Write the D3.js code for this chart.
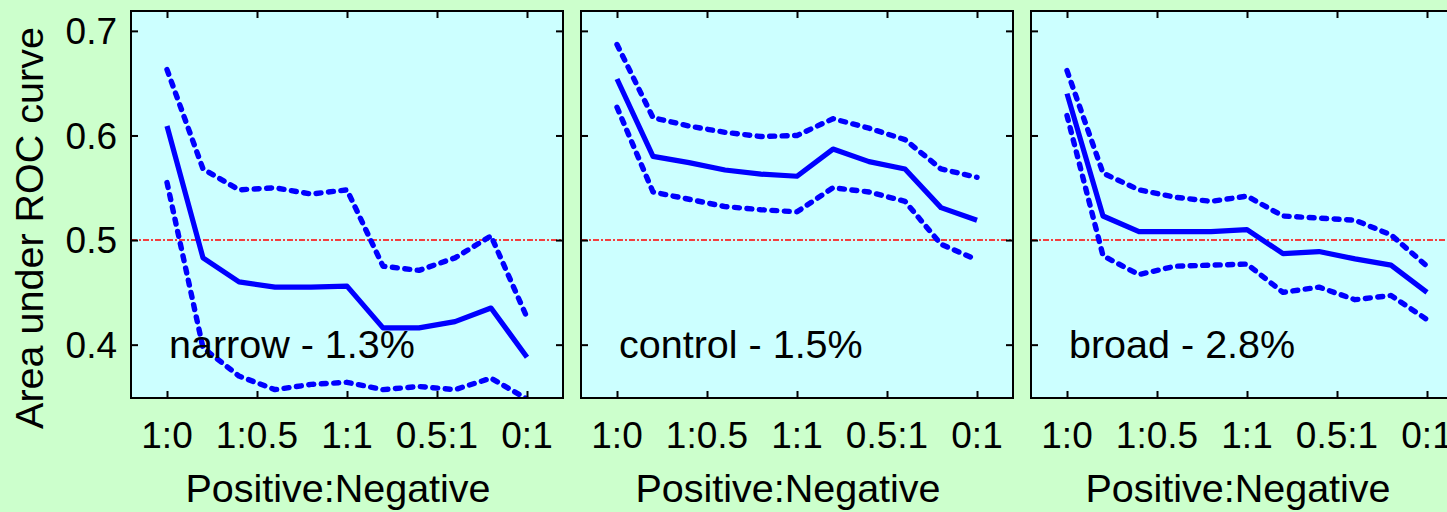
<!DOCTYPE html>
<html><head><meta charset="utf-8">
<script src="https://cdn.jsdelivr.net/npm/d3@7"></script>
<style>html,body{margin:0;padding:0;background:#ccffcc;overflow:hidden}svg{display:block}</style>
</head><body><svg id="c" width="1447" height="512"></svg>
<script>
// ---- data ----
const categories = ["1:0", "1:0.5", "1:1", "0.5:1", "0:1"];
const categoryPos = [0, 2.5, 5, 7.5, 10];
const steps = [0, 1, 2, 3, 4, 5, 6, 7, 8, 9, 10];
const yTicks = [0.4, 0.5, 0.6, 0.7];
const panelLabels = ["narrow - 1.3%", "control - 1.5%", "broad - 2.8%"];
const chanceLevel = 0.5;

const narrowMean  = [0.609, 0.483, 0.460, 0.455, 0.455, 0.456, 0.416, 0.416, 0.422, 0.435, 0.388];
const narrowUpper = [0.663, 0.568, 0.548, 0.550, 0.544, 0.548, 0.475, 0.471, 0.483, 0.504, 0.426];
const narrowLower = [0.555, 0.397, 0.370, 0.357, 0.362, 0.364, 0.357, 0.360, 0.357, 0.368, 0.348];

const controlMean  = [0.654, 0.580, 0.574, 0.567, 0.563, 0.561, 0.587, 0.575, 0.568, 0.531, 0.519];
const controlUpper = [0.687, 0.617, 0.609, 0.603, 0.599, 0.600, 0.616, 0.607, 0.596, 0.568, 0.560];
const controlLower = [0.627, 0.546, 0.539, 0.532, 0.529, 0.527, 0.550, 0.546, 0.537, 0.496, 0.481];

const broadMean  = [0.640, 0.523, 0.508, 0.508, 0.508, 0.510, 0.487, 0.489, 0.482, 0.476, 0.450];
const broadUpper = [0.662, 0.564, 0.548, 0.541, 0.537, 0.542, 0.523, 0.521, 0.519, 0.505, 0.475];
const broadLower = [0.619, 0.485, 0.467, 0.475, 0.476, 0.477, 0.450, 0.455, 0.443, 0.447, 0.424];

const panelMeans  = [narrowMean, controlMean, broadMean];
const panelUppers = [narrowUpper, controlUpper, broadUpper];
const panelLowers = [narrowLower, controlLower, broadLower];

// ---- layout ----
const svg = d3.select("#c");
const W = 432, H = 387, topY = 11;
const panelLeft = [131, 581, 1031];
const FONT = "'Liberation Sans', Arial, Helvetica, sans-serif";

const x = d3.scaleLinear().domain([-1, 11]).range([0, W]);
const y = d3.scaleLinear().domain([0.349, 0.719]).range([H, 0]);

const line = d3.line().x((d, i) => x(steps[i])).y(d => y(d));

panelLeft.forEach((left, p) => {
  const g = svg.append("g").attr("transform", `translate(${left},${topY})`);
  g.append("rect").attr("width", W).attr("height", H).attr("fill", "#ccffff");

  const clipId = "clip" + p;
  g.append("clipPath").attr("id", clipId).append("rect").attr("width", W).attr("height", H);
  const plot = g.append("g").attr("clip-path", `url(#${clipId})`);

  // chance line
  plot.append("line")
    .attr("x1", 0).attr("x2", W)
    .attr("y1", y(chanceLevel)).attr("y2", y(chanceLevel))
    .attr("stroke", "#ff0000").attr("stroke-width", 1.6)
    .attr("stroke-dasharray", "6,2,2,2");

  // bounds
  [panelUppers[p], panelLowers[p]].forEach(arr => {
    plot.append("path").datum(arr).attr("d", line)
      .attr("fill", "none").attr("stroke", "#0000ff").attr("stroke-width", 5.4)
      .attr("stroke-linecap", "round").attr("stroke-linejoin", "round")
      .attr("stroke-dasharray", "5,7.5");
  });
  plot.append("path").datum(panelMeans[p]).attr("d", line)
    .attr("fill", "none").attr("stroke", "#0000ff").attr("stroke-width", 5.2)
    .attr("stroke-linejoin", "round");

  // ticks (inward, mirrored)
  const tk = 7;
  const axB = d3.axisBottom(x).tickValues(categoryPos).tickSizeInner(-tk).tickSizeOuter(0).tickFormat("");
  const axT = d3.axisTop(x).tickValues(categoryPos).tickSizeInner(-tk).tickSizeOuter(0).tickFormat("");
  const axL = d3.axisLeft(y).tickValues(yTicks).tickSizeInner(-tk).tickSizeOuter(0).tickFormat("");
  const axR = d3.axisRight(y).tickValues(yTicks).tickSizeInner(-tk).tickSizeOuter(0).tickFormat("");
  [[axB, `translate(0,${H})`], [axT, "translate(0,0)"], [axL, "translate(0,0)"], [axR, `translate(${W},0)`]]
    .forEach(([ax, tr]) => {
      const a = g.append("g").attr("transform", tr).call(ax);
      a.select(".domain").remove();
      a.selectAll("line").attr("stroke", "#000").attr("stroke-width", 2);
    });

  g.append("rect").attr("width", W).attr("height", H)
    .attr("fill", "none").attr("stroke", "#000").attr("stroke-width", 2);

  // x tick labels
  g.selectAll(".xl").data(categories).enter().append("text")
    .attr("x", (d, i) => x(categoryPos[i])).attr("y", 448 - topY)
    .attr("text-anchor", "middle").attr("font-family", FONT).attr("font-size", 37)
    .attr("fill", "#000").text(d => d);

  // x axis title
  g.append("text").attr("x", W / 2 - 9).attr("y", 502 - topY)
    .attr("text-anchor", "middle").attr("font-family", FONT).attr("font-size", 39.5)
    .attr("fill", "#000").text("Positive:Negative");

  // panel label
  g.append("text").attr("x", 38).attr("y", 358 - topY)
    .attr("font-family", FONT).attr("font-size", 39.5).attr("fill", "#000")
    .text(panelLabels[p]);

  if (p === 0) {
    g.selectAll(".yl").data(yTicks).enter().append("text")
      .attr("x", 117 - left).attr("y", d => y(d)).attr("dy", "0.36em")
      .attr("text-anchor", "end").attr("font-family", FONT).attr("font-size", 37)
      .attr("fill", "#000").text(d => d.toFixed(1));
  }
});

svg.append("text")
  .attr("transform", "translate(43,228) rotate(-90)")
  .attr("text-anchor", "middle").attr("font-family", FONT).attr("font-size", 39.5)
  .attr("fill", "#000").text("Area under ROC curve");
</script></body></html>
